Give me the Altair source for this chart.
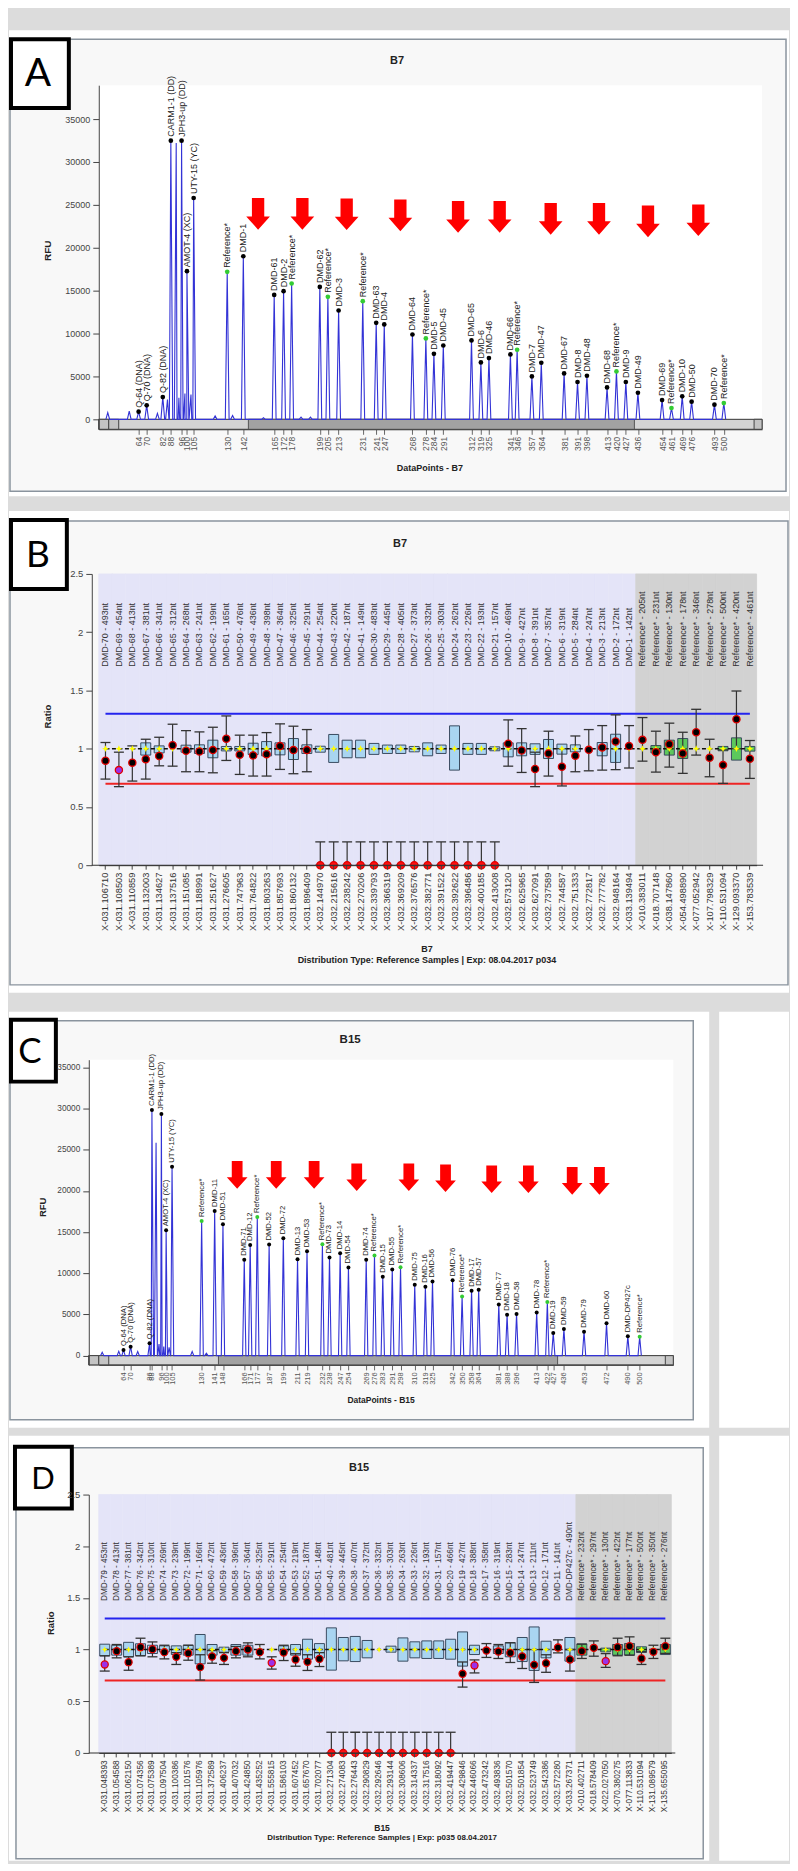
import altair as alt
import pandas as pd

FONT = "Liberation Sans"
LETTER_FONT = "Lato"
PAGE_BG = "#dcdcdc"
ONE = alt.Data(values=[{"k": 1}])
ARROW = "M-0.39,-1L0.39,-1L0.39,0.16L0.75,0.16L0,1L-0.75,0.16L-0.39,0.16Z"
STAR = "M0,-1L0.3,-0.3L1,0L0.3,0.3L0,1L-0.3,0.3L-1,0L-0.3,-0.3Z"

# ---------------- Panel A : B7 electropherogram ----------------
a_size = [41, 57, 64, 70, 78, 82, 85.5, 88, 92, 94, 96, 98.5, 100, 103, 105,
          121, 130, 134, 142, 157, 165, 172, 178, 185, 192, 199, 205, 213, 231, 241,
          247, 268, 278, 284, 291, 312, 319, 325, 341, 346, 357, 364, 381, 391, 398,
          413, 420, 427, 436, 454, 461, 469, 476, 493, 500]
a_rfu = [780, 970, 890, 1630, 700, 2600, 2300, 32480, 32200, 2500, 32480, 3000, 17270, 2900, 25800,
         400, 17190, 450, 19010, 200, 14500, 14940, 15830, 250, 250, 15440, 14280, 12690, 13770, 11250,
         11060, 9890, 9430, 7640, 8610, 9200, 6630, 7140, 7570, 8110, 5000, 6600, 5350, 4350, 5080,
         3720, 5590, 4350, 3100, 2250, 1320, 2680, 2060, 1710, 1900]
a_label = ["", "", "Q-64 (DNA)", "Q-70 (DNA)", "", "Q-82 (DNA)", "", "CARM1-1 (DD)", "", "",
           "JPH3-up (DD)", "", "AMOT-4 (XC)", "", "UTY-15 (YC)",
           "", "Reference*", "", "DMD-1", "", "DMD-61", "DMD-2", "Reference*", "", "",
           "DMD-62", "Reference*", "DMD-3", "Reference*", "DMD-63",
           "DMD-4", "DMD-64", "Reference*", "DMD-5", "DMD-45", "DMD-65", "DMD-6", "DMD-46", "DMD-66",
           "Reference*", "DMD-7", "DMD-47", "DMD-67", "DMD-8", "DMD-48",
           "DMD-68", "Reference*", "DMD-9", "DMD-49", "DMD-69", "Reference*", "DMD-10", "DMD-50",
           "DMD-70", "Reference*"]
a_ticks = [64, 70, 82, 88, 96, 100, 105, 130, 142, 165, 172, 178, 199, 205, 213, 231, 241, 247,
           268, 278, 284, 291, 312, 319, 325, 341, 346, 357, 364, 381, 391, 398, 413, 420, 427,
           436, 454, 461, 469, 476, 493, 500]
a_arrow_x = [153, 186, 219, 259, 302, 333, 371, 407, 443.5, 481]
a_arrow_y = [23950, 23950, 23900, 23780, 23600, 23600, 23370, 23370, 23080, 23200]

# ---------------- Panel C : B15 electropherogram ----------------
c_size = [46, 60, 64, 70, 76, 86, 88, 91.5, 94, 96, 98, 100, 102.5, 105, 122,
          130, 134, 141, 148, 166, 171, 177, 187, 199, 211, 219, 232, 238, 247, 254,
          269, 276, 283, 291, 298, 310, 319, 325, 342, 350, 358, 364, 381, 388, 396,
          413, 422, 427, 436, 453, 472, 490, 500]
c_rfu = [400, 520, 690, 1090, 500, 1490, 29830, 25840, 1400, 29350, 1100, 15220, 1000, 22930, 500,
         16350, 300, 17560, 15950, 11630, 13440, 16830, 13480, 14250, 11710, 12680, 13520, 11910, 12430, 10700,
         11630, 12150, 9570, 10460, 10740, 8600, 8360, 9000, 9160, 7190, 7870, 7990, 6220, 4970, 5050,
         5250, 6500, 2750, 3230, 2910, 3920, 2340, 2300]
c_label = ["", "", "Q-64 (DNA)", "Q-70 (DNA)", "", "Q-82 (DNA)", "CARM1-1 (DD)", "", "", "JPH3-up (DD)",
           "", "AMOT-4 (XC)", "", "UTY-15 (YC)", "",
           "Reference*", "", "DMD-11", "DMD-51", "DMD-71", "DMD-12", "Reference*", "DMD-52", "DMD-72",
           "DMD-13", "DMD-53", "Reference*", "DMD-73", "DMD-14", "DMD-54",
           "DMD-74", "Reference*", "DMD-15", "DMD-55", "Reference*", "DMD-75", "DMD-16", "DMD-56",
           "DMD-76", "Reference*", "DMD-17", "DMD-57", "DMD-77", "DMD-18", "DMD-58",
           "DMD-78", "Reference*", "DMD-19", "DMD-59", "DMD-79", "DMD-60", "DMD-DP427c", "Reference*"]
c_ticks = [64, 70, 86, 88, 96, 100, 105, 130, 141, 148, 166, 171, 177, 187, 199, 211, 219, 232,
           238, 247, 254, 269, 276, 283, 291, 298, 310, 319, 325, 342, 350, 358, 364, 381, 388,
           396, 413, 422, 427, 436, 453, 472, 490, 500]
c_arrow_x = [160, 193, 225, 261, 305, 336, 375, 406, 443, 466]
c_arrow_y = [21940, 21940, 21940, 21650, 21650, 21530, 21410, 21410, 21220, 21220]

rfu_ticks = [0, 5000, 10000, 15000, 20000, 25000, 30000, 35000]

# ---------------- Panel B : B7 ratio plot ----------------
b_xlab = ["X-031.106710", "X-031.108503", "X-031.110859", "X-031.132003", "X-031.134627",
          "X-031.137516", "X-031.151085", "X-031.188991", "X-031.251627", "X-031.276605",
          "X-031.747963", "X-031.764822", "X-031.803263", "X-031.857693", "X-031.860132",
          "X-031.896409", "X-032.144970", "X-032.215616", "X-032.238242", "X-032.270206",
          "X-032.339793", "X-032.366319", "X-032.369209", "X-032.376576", "X-032.382771",
          "X-032.391522", "X-032.392622", "X-032.396486", "X-032.400185", "X-032.413008",
          "X-032.573120", "X-032.625965", "X-032.627091", "X-032.737589", "X-032.744587",
          "X-032.751333", "X-032.772817", "X-032.777782", "X-032.948164", "X-033.139494",
          "X-010.383011", "X-018.707148", "X-038.147860", "X-054.498890", "X-077.052942",
          "X-107.798329", "X-110.531094", "X-129.093370", "X-153.783539"]
b_probe = ["DMD-70 - 493nt", "DMD-69 - 454nt", "DMD-68 - 413nt", "DMD-67 - 381nt", "DMD-66 - 341nt",
           "DMD-65 - 312nt", "DMD-64 - 268nt", "DMD-63 - 241nt", "DMD-62 - 199nt", "DMD-61 - 165nt",
           "DMD-50 - 476nt", "DMD-49 - 436nt", "DMD-48 - 398nt", "DMD-47 - 364nt", "DMD-46 - 325nt",
           "DMD-45 - 291nt", "DMD-44 - 254nt", "DMD-43 - 220nt", "DMD-42 - 187nt", "DMD-41 - 149nt",
           "DMD-30 - 483nt", "DMD-29 - 445nt", "DMD-28 - 405nt", "DMD-27 - 373nt", "DMD-26 - 332nt",
           "DMD-25 - 303nt", "DMD-24 - 262nt", "DMD-23 - 226nt", "DMD-22 - 193nt", "DMD-21 - 157nt",
           "DMD-10 - 469nt", "DMD-9 - 427nt", "DMD-8 - 391nt", "DMD-7 - 357nt", "DMD-6 - 319nt",
           "DMD-5 - 284nt", "DMD-4 - 247nt", "DMD-3 - 213nt", "DMD-2 - 172nt", "DMD-1 - 142nt",
           "Reference* - 205nt", "Reference* - 231nt", "Reference* - 130nt", "Reference* - 178nt",
           "Reference* - 346nt", "Reference* - 278nt", "Reference* - 500nt", "Reference* - 420nt",
           "Reference* - 461nt"]
b_box_lo = [None, None, None, 0.945, 0.964, None, 0.97, 0.959, 0.922, 0.981,
            0.981, 0.95, 0.938, 0.947, 0.907, 0.959, 0.970, 0.882, 0.922, 0.922,
            0.951, 0.959, 0.959, 0.973, 0.939, 0.959, 0.816, 0.951, 0.951, 0.982,
            0.93, 0.939, 0.951, 0.916, 0.953, 0.973, None, 0.939, 0.882, None,
            None, 0.964, 0.945, 0.916, None, None, 0.982, 0.902, 0.979]
b_box_hi = [None, None, None, 1.050, 1.024, None, 1.03, 1.033, 1.073, 1.019,
            1.019, 1.047, 1.061, 1.050, 1.087, 1.033, 1.021, 1.122, 1.073, 1.073,
            1.045, 1.031, 1.031, 1.019, 1.050, 1.031, 1.196, 1.045, 1.045, 1.016,
            1.05, 1.050, 1.042, 1.079, 1.039, 1.033, None, 1.053, 1.124, None,
            None, 1.027, 1.073, 1.087, None, None, 1.019, 1.093, 1.019]
b_ratio = [0.896, 0.816, 0.88, 0.910, 0.938, 1.030, 0.982, 0.976, 0.988, 1.085,
           0.948, 0.942, 0.953, 1.022, 0.988, 0.988, 0.0, 0.0, 0.0, 0.0,
           0.0, 0.0, 0.0, 0.0, 0.0, 0.0, 0.0, 0.0, 0.0, 0.0,
           1.042, 0.985, 0.825, 0.959, 0.845, 0.939, 0.990, 1.010, 1.062, 1.022,
           1.076, 0.970, 1.039, 0.959, 1.141, 0.922, 0.859, 1.253, 0.913]
b_err_lo = [0.739, 0.674, 0.722, 0.739, 0.853, 0.85, 0.802, 0.802, 0.793, 0.899,
            0.779, 0.765, 0.765, 0.822, 0.785, 0.802, 0.0, 0.0, 0.0, 0.0,
            0.0, 0.0, 0.0, 0.0, 0.0, 0.0, 0.0, 0.0, 0.0, 0.0,
            0.850, 0.796, 0.674, 0.765, 0.68, 0.802, 0.810, 0.816, 0.82, 0.834,
            0.893, 0.799, 0.842, 0.788, 0.945, 0.759, 0.702, 1.0, 0.745]
b_err_hi = [1.053, 0.97, 1.024, 1.081, 1.098, 1.21, 1.155, 1.144, 1.184, 1.281,
            1.116, 1.116, 1.138, 1.213, 1.193, 1.164, 0.2, 0.2, 0.2, 0.2,
            0.2, 0.2, 0.2, 0.2, 0.2, 0.2, 0.2, 0.2, 0.2, 0.2,
            1.247, 1.172, 0.97, 1.150, 1.0, 1.109, 1.164, 1.198, 1.29, 1.198,
            1.267, 1.150, 1.219, 1.141, 1.338, 1.081, 0.99, 1.495, 1.070]
b_kind = list("kpkkkkkkkkkkkkkk" "zzzzzzzzzzzzzz" "kkkkkkkkkkkkkkkkkkk")

# ---------------- Panel D : B15 ratio plot ----------------
d_xlab = ["X-031.048393", "X-031.054588", "X-031.062150", "X-031.074356", "X-031.075389",
          "X-031.097504", "X-031.100386", "X-031.101576", "X-031.105976", "X-031.372589",
          "X-031.406237", "X-031.407032", "X-031.424850", "X-031.435252", "X-031.555815",
          "X-031.586103", "X-031.607452", "X-031.657670", "X-031.702077", "X-032.271304",
          "X-032.274083", "X-032.276443", "X-032.290829", "X-032.292646", "X-032.293144",
          "X-032.308606", "X-032.314337", "X-032.317516", "X-032.318092", "X-032.419447",
          "X-032.429846", "X-032.446066", "X-032.473242", "X-032.493836", "X-032.501570",
          "X-032.501854", "X-032.523749", "X-032.542386", "X-032.572280", "X-033.267371",
          "X-010.402711", "X-018.578409", "X-022.027050", "X-070.380275", "X-077.113833",
          "X-110.531094", "X-131.089579", "X-135.655095"]
d_probe = ["DMD-79 - 453nt", "DMD-78 - 413nt", "DMD-77 - 381nt", "DMD-76 - 342nt", "DMD-75 - 310nt",
           "DMD-74 - 269nt", "DMD-73 - 239nt", "DMD-72 - 199nt", "DMD-71 - 166nt", "DMD-60 - 472nt",
           "DMD-59 - 436nt", "DMD-58 - 396nt", "DMD-57 - 364nt", "DMD-56 - 325nt", "DMD-55 - 291nt",
           "DMD-54 - 254nt", "DMD-53 - 219nt", "DMD-52 - 187nt", "DMD-51 - 148nt", "DMD-40 - 481nt",
           "DMD-39 - 445nt", "DMD-38 - 407nt", "DMD-37 - 372nt", "DMD-36 - 332nt", "DMD-35 - 303nt",
           "DMD-34 - 263nt", "DMD-33 - 226nt", "DMD-32 - 193nt", "DMD-31 - 157nt", "DMD-20 - 466nt",
           "DMD-19 - 427nt", "DMD-18 - 388nt", "DMD-17 - 358nt", "DMD-16 - 319nt", "DMD-15 - 283nt",
           "DMD-14 - 247nt", "DMD-13 - 211nt", "DMD-12 - 171nt", "DMD-11 - 141nt", "DMD-DP427c - 490nt",
           "Reference* - 232nt", "Reference* - 297nt", "Reference* - 130nt", "Reference* - 422nt",
           "Reference* - 177nt", "Reference* - 500nt", "Reference* - 350nt", "Reference* - 276nt"]
d_box_lo = [0.939, 0.946, 0.93, 0.940, 0.962, 0.978, 0.952, 0.946, 0.862, 0.946,
            0.975, 0.946, 0.946, None, None, 0.985, 0.946, 0.907, 0.919, 0.801,
            0.891, 0.884, 0.92, None, 0.975, 0.888, 0.92, 0.914, 0.914, 0.907,
            0.840, 0.952, None, 0.962, 0.930, 0.884, 0.798, 0.920, None, 0.888,
            0.946, None, 0.978, 0.946, 0.946, 0.972, None, 0.952]
d_box_hi = [1.052, 1.042, 1.07, 1.056, 1.042, 1.036, 1.036, 1.042, 1.146, 1.049,
            1.023, 1.049, 1.042, None, None, 1.036, 1.049, 1.100, 1.058, 1.210,
            1.117, 1.127, 1.088, None, 1.033, 1.113, 1.075, 1.084, 1.084, 1.100,
            1.171, 1.042, None, 1.036, 1.068, 1.117, 1.219, 1.081, None, 1.117,
            1.055, None, 1.014, 1.049, 1.059, 1.027, None, 1.049]
d_ratio = [0.856, 0.985, 0.878, 1.023, 1.004, 0.975, 0.930, 0.965, 0.830, 0.933,
           0.920, 0.985, 1.001, 0.975, 0.872, 0.971, 0.904, 0.881, 0.910, 0.0,
           0.0, 0.0, 0.0, 0.0, 0.0, 0.0, 0.0, 0.0, 0.0, 0.0,
           0.766, 0.846, 0.991, 0.981, 0.968, 0.933, 0.852, 0.868, 1.020, 0.904,
           0.985, 1.017, 0.888, 1.023, 1.033, 0.914, 0.978, 1.033]
d_err_lo = [0.792, 0.920, 0.80, 0.94, 0.930, 0.91, 0.856, 0.897, 0.705, 0.868,
            0.856, 0.920, 0.930, 0.91, 0.811, 0.894, 0.839, 0.798, 0.836, 0.0,
            0.0, 0.0, 0.0, 0.0, 0.0, 0.0, 0.0, 0.0, 0.0, 0.0,
            0.637, 0.774, 0.924, 0.914, 0.875, 0.817, 0.682, 0.78, 0.968, 0.792,
            0.914, 0.936, 0.827, 0.94, 0.946, 0.856, 0.914, 0.963]
d_err_hi = [0.94, 1.049, 0.93, 1.110, 1.074, 1.042, 0.97, 1.042, 0.95, 0.99,
            0.97, 1.03, 1.065, 1.049, 0.93, 1.042, 0.96, 0.95, 0.97, 0.2,
            0.2, 0.2, 0.2, 0.2, 0.2, 0.2, 0.2, 0.2, 0.2, 0.2,
            0.88, 0.90, 1.058, 1.049, 1.065, 1.0, 1.0, 0.95, 1.094, 1.0,
            1.052, 1.084, 0.96, 1.11, 1.123, 0.98, 1.042, 1.11]
d_kind = list("pkkkkkkkkkkkkkpkkkk" "zzzzzzzzzzz" "kpkkkkkkkk" "kkpkkkkk")

thresholds = [1.3, 0.7]
median_ratio = 1.0
ratio_ticks = [0, 0.5, 1, 1.5, 2, 2.5]


# ---------------- helpers ----------------
def deco_rect(g, x1, y1, x2, y2, fill, stroke=None, sw=0):
    props = {"fill": fill, "strokeWidth": sw}
    if stroke:
        props["stroke"] = stroke
    return alt.Chart(ONE).mark_rect(**props).encode(
        x=alt.value(x1 - g["PL"]), x2=alt.value(x2 - g["PL"]),
        y=alt.value(y1 - g["PT"]), y2=alt.value(y2 - g["PT"]))


def deco_text(g, x, y, txt, size, bold=False, angle=0, font=FONT, color="#222222"):
    props = {"text": txt, "fontSize": size, "font": font, "color": color,
             "align": "center", "baseline": "middle"}
    if bold:
        props["fontWeight"] = "bold"
    if angle:
        props["angle"] = angle
    return alt.Chart(ONE).mark_text(**props).encode(
        x=alt.value(x - g["PL"]), y=alt.value(y - g["PT"]))


def electro_panel(g, sizes, rfu, labels, ticks, arr_x, arr_y):
    W, H = g["W"], g["H"]
    xs = alt.Scale(domain=g["xdom"], nice=False, zero=False)
    ys = alt.Scale(domain=g["ydom"], nice=False, zero=False)
    pk = pd.DataFrame({"v": sizes, "h": rfu, "lab": labels})
    ar = pd.DataFrame({"ax": arr_x, "ay": arr_y})
    xaxis = alt.Axis(values=ticks, format="d", labelAngle=-90, labelFontSize=g["tfs"],
                     labelColor="#555555", tickSize=5, tickColor="#666666",
                     domainColor="#444444", labelOverlap=False, labelPadding=2,
                     labelFlush=False, title=None, grid=False, zindex=2)
    yaxis = alt.Axis(values=rfu_ticks, format="d", labelFontSize=g["yfs"], labelColor="#444444",
                     tickSize=6, tickColor="#444444", domainColor="#444444", labelPadding=3,
                     offset=g["yoff"], labelFlush=False, labelOverlap=False, title=None,
                     grid=False, zindex=2)
    trace = (alt.Chart(pk)
             .transform_calculate(a="datum.v - 1.4", c="datum.v", b="datum.v + 1.4")
             .transform_fold(["a", "c", "b"], as_=["k", "px"])
             .transform_calculate(py="datum.k == 'c' ? datum.h : 0")
             .mark_line(color="#3333d6", strokeWidth=1.1)
             .encode(x=alt.X("px:Q", scale=xs, axis=xaxis),
                     y=alt.Y("py:Q", scale=ys, axis=yaxis),
                     order="px:Q"))
    named = alt.Chart(pk).transform_filter("datum.lab != ''")
    dots = named.mark_circle(size=g["dot"], opacity=1).encode(
        x=alt.X("v:Q", scale=xs, axis=xaxis), y=alt.Y("h:Q", scale=ys, axis=yaxis),
        color=alt.condition("datum.lab == 'Reference*'", alt.value("#33cc33"), alt.value("#000000")))
    labs = named.mark_text(angle=270, align="left", baseline="middle", dx=4,
                           fontSize=g["lfs"], font=FONT, color="#222222").encode(
        x=alt.X("v:Q", scale=xs, axis=xaxis), y=alt.Y("h:Q", scale=ys, axis=yaxis), text="lab:N")
    arrows = alt.Chart(ar).mark_point(shape=ARROW, filled=True, size=g["asz"], color="#ff0000",
                                      opacity=1, strokeWidth=0).encode(
        x=alt.X("ax:Q", scale=xs, axis=xaxis), y=alt.Y("ay:Q", scale=ys, axis=yaxis))

    d = g["deco"]
    PL, PT = g["PL"], g["PT"]
    px0 = d["plotx"]
    sb_top = d["sb"][0]
    sb_bot = PT + H
    layers = [deco_rect(g, *d["slot"], PAGE_BG), deco_rect(g, *d["card"], "#ffffff")]
    if "white" in d:
        layers.append(deco_rect(g, *d["white"], "#ffffff"))
    layers += [
        deco_rect(g, *d["frame"], "#f8f8f8", "#8a949e", 1.5),
        deco_rect(g, px0, PT, PL + W, PT + H, "#ffffff"),
        deco_rect(g, px0, sb_top, PL + W, sb_bot, "#d4d4d4", "#333333", 1),
        deco_rect(g, d["sb"][1], sb_top, d["sb"][2], sb_bot, "#a2a2a2", "#555555", 1),
        deco_rect(g, px0, sb_top, px0 + 10, sb_bot, "#c4c4c4", "#444444", 1),
        deco_rect(g, px0 + 10, sb_top, px0 + 20, sb_bot, "#c4c4c4", "#444444", 1),
        deco_rect(g, PL + W - 8, sb_top, PL + W, sb_bot, "#c4c4c4", "#444444", 1),
        trace, dots, labs, arrows,
        deco_text(g, *d["title"], bold=True),
        deco_text(g, *d["ytitle"], bold=True, angle=270),
        deco_text(g, *d["xtitle"], bold=True),
        deco_rect(g, *d["lbox"], "#ffffff", "#000000", 4),
        deco_text(g, *d["letter"], font=LETTER_FONT, color="#000000"),
    ]
    return alt.layer(*layers).properties(width=W, height=H)


def ratio_panel(g, xlab, probe, blo, bhi, ratio, elo, ehi, kind):
    W, H = g["W"], g["H"]
    n = len(xlab)
    xs = alt.Scale(domain=xlab, paddingInner=0, paddingOuter=0)
    ys = alt.Scale(domain=[0, 2.5], nice=False, zero=False)
    grp = ["Ref" if p.startswith("Reference") else "DMD" for p in probe]
    df = pd.DataFrame({"xl": xlab, "probe": probe, "blo": blo, "bhi": bhi, "r": ratio,
                       "elo": elo, "ehi": ehi, "kind": kind, "grp": grp,
                       "idx": list(range(n)), "med": [median_ratio] * n})
    lines = pd.DataFrame({"xl": xlab * 2, "idx": list(range(n)) * 2,
                          "y": [thresholds[0]] * n + [thresholds[1]] * n,
                          "g": ["hi"] * n + ["lo"] * n})
    xaxis = alt.Axis(labelAngle=-90, labelFontSize=g["xfs"], labelColor="#333333", labelPadding=3,
                     tickSize=4, tickColor="#444444", domainColor="#333333", title=None,
                     grid=False, zindex=2, labelOverlap=False)
    yaxis = alt.Axis(values=ratio_ticks, format="~g", labelFontSize=9.5, labelColor="#444444",
                     tickSize=6, tickColor="#444444", domainColor="#444444", labelPadding=3,
                     offset=g["yoff"], title=None, grid=False, zindex=2, labelFlush=False)
    X = alt.X("xl:N", scale=xs, axis=xaxis)

    def Y(f):
        return alt.Y(f, scale=ys, axis=yaxis)

    bg = alt.Chart(df).mark_rect(strokeWidth=0.8).encode(
        x=X, y=alt.value(0), y2=alt.value(H),
        fill=alt.condition("datum.grp == 'Ref'", alt.value("#d2d2d2"), alt.value("#e4e4f8")),
        stroke=alt.condition("datum.grp == 'Ref'", alt.value("#d2d2d2"), alt.value("#e4e4f8")))
    thr = alt.Chart(lines).mark_line(strokeWidth=2).encode(
        x=X, y=Y("y:Q"),
        color=alt.Color("g:N", scale=alt.Scale(domain=["hi", "lo"], range=["#2424ee", "#ee2424"]),
                        legend=None),
        order="idx:Q")
    boxes = alt.Chart(df.dropna(subset=["blo"])).mark_bar(
        width=g["bw"], stroke="#3a4b60", strokeWidth=1).encode(
        x=X, y=Y("blo:Q"), y2="bhi:Q",
        fill=alt.condition("datum.grp == 'Ref'", alt.value("#5cc85c"), alt.value("#a9d5f1")))
    med = alt.Chart(df).mark_line(strokeDash=[4, 2.5], color="#111111", strokeWidth=1.6).encode(
        x=X, y=Y("med:Q"), order="idx:Q")
    err = alt.Chart(df).mark_rule(color="#333333", strokeWidth=1.2).encode(
        x=X, y=Y("elo:Q"), y2="ehi:Q")
    cap_lo = alt.Chart(df).mark_tick(size=g["cap"], thickness=1.3, color="#333333", opacity=1).encode(
        x=X, y=Y("elo:Q"))
    cap_hi = alt.Chart(df).mark_tick(size=g["cap"], thickness=1.3, color="#333333", opacity=1).encode(
        x=X, y=Y("ehi:Q"))
    stars = alt.Chart(df).mark_point(shape=STAR, filled=True, color="#ffff00", size=g["star"],
                                     opacity=1, strokeWidth=0).encode(
        x=X, y=Y("med:Q"))
    dots = alt.Chart(df).mark_point(shape="circle", filled=True, size=g["dot"], stroke="#e00000",
                                    strokeWidth=1.3, opacity=1).encode(
        x=X, y=Y("r:Q"),
        fill=alt.Fill("kind:N", scale=alt.Scale(domain=["k", "p", "z"],
                                                range=["#000000", "#9b30e8", "#ff1010"]), legend=None))
    tops = alt.Chart(df).mark_text(angle=270, align="left", baseline="middle", fontSize=g["pfs"],
                                   font=FONT, color="#333333").encode(
        x=X, y=alt.value(g["ly"]), text="probe:N")

    d = g["deco"]
    ax0, ax1, ay = d["xline"]
    layers = [deco_rect(g, *d["slot"], PAGE_BG), deco_rect(g, *d["card"], "#ffffff")]
    if "white" in d:
        layers.append(deco_rect(g, *d["white"], "#ffffff"))
    layers += [
        deco_rect(g, *d["frame"], "#f8f8f8", "#8a949e", 1.5),
        bg, thr, boxes, med, err, cap_lo, cap_hi, stars, dots, tops,
        deco_rect(g, ax0, ay - 0.5, ax1, ay + 0.5, "#333333"),
        deco_text(g, *d["title"], bold=True),
        deco_text(g, *d["ytitle"], bold=True, angle=270),
        deco_text(g, *d["xtitle"], bold=True),
        deco_text(g, *d["sub"], bold=True),
        deco_rect(g, *d["lbox"], "#ffffff", "#000000", 4),
        deco_text(g, *d["letter"], font=LETTER_FONT, color="#000000"),
    ]
    return alt.layer(*layers).properties(width=W, height=H)


# ---------------- geometry (page pixels); every panel's plot origin sits at x=98 ----------------
GA = {"PL": 98, "PT": 82, "W": 665, "H": 345, "xdom": [34.3, 528.5], "ydom": [-1160, 38950],
      "tfs": 8.5, "yfs": 9, "lfs": 9, "dot": 22, "asz": 1005, "yoff": 0,
      "deco": {"slot": (8, 8, 790, 498), "card": (8, 27, 790, 494), "frame": (9, 36, 787, 489),
               "plotx": 98, "sb": (417, 248, 635),
               "title": (397, 58, "B7", 11), "ytitle": (47, 248, "RFU", 10),
               "xtitle": (430, 466, "DataPoints - B7", 9),
               "lbox": (10, 36, 68, 105), "letter": (37, 71, "A", 39)}}
GB = {"PL": 98, "PT": 570, "W": 659.5, "H": 292, "yoff": 7, "xfs": 9.3, "pfs": 9, "ly": 93,
      "bw": 10, "cap": 10, "dot": 52, "star": 45,
      "deco": {"slot": (8, 498, 790, 998), "card": (8, 507, 790, 990), "frame": (9, 517, 789, 982),
               "xline": (91, 764, 862),
               "title": (400, 540, "B7", 11), "ytitle": (47, 713, "Ratio", 9.5),
               "xtitle": (427, 946, "B7", 9),
               "sub": (427, 957, "Distribution Type: Reference Samples | Exp: 08.04.2017 p034", 9),
               "lbox": (10, 516, 66, 585), "letter": (37, 552, "B", 37)}}
GC = {"PL": 98, "PT": 1055, "W": 576, "H": 306, "xdom": [43.1, 528.4], "ydom": [-1126, 35930],
      "tfs": 7.5, "yfs": 8.3, "lfs": 7.7, "dot": 16, "asz": 767, "yoff": 10,
      "deco": {"slot": (8, 998, 790, 1428), "card": (8, 1007, 710, 1424),
               "white": (720, 1007, 790, 1424), "frame": (9, 1016, 694, 1416),
               "plotx": 88, "sb": (1351.7, 218, 558),
               "title": (350, 1035, "B15", 11.5), "ytitle": (42, 1203, "RFU", 9.5),
               "xtitle": (381, 1396, "DataPoints - B15", 8.5),
               "lbox": (10, 1015, 55, 1077), "letter": (29, 1047, "C", 35)}}
GD = {"PL": 98, "PT": 1489, "W": 574, "H": 259, "yoff": 10, "xfs": 8.3, "pfs": 8.3, "ly": 106.7,
      "bw": 10, "cap": 10, "dot": 50, "star": 40,
      "deco": {"slot": (8, 1428, 790, 1856), "card": (8, 1430, 710, 1856),
               "white": (720, 1430, 790, 1856), "frame": (15, 1442, 704, 1854),
               "xline": (88, 676, 1748),
               "title": (359, 1462, "B15", 11), "ytitle": (50, 1618, "Ratio", 9.5),
               "xtitle": (382, 1823, "B15", 8.5),
               "sub": (382, 1833, "Distribution Type: Reference Samples | Exp: p035 08.04.2017", 8),
               "lbox": (14, 1441, 71, 1503), "letter": (42, 1474, "D", 31)}}

pA = electro_panel(GA, a_size, a_rfu, a_label, a_ticks, a_arrow_x, a_arrow_y)
pB = ratio_panel(GB, b_xlab, b_probe, b_box_lo, b_box_hi, b_ratio, b_err_lo, b_err_hi, b_kind)
pC = electro_panel(GC, c_size, c_rfu, c_label, c_ticks, c_arrow_x, c_arrow_y)
pD = ratio_panel(GD, d_xlab, d_probe, d_box_lo, d_box_hi, d_ratio, d_err_lo, d_err_hi, d_kind)

chart = (alt.concat(pA, pB, pC, pD, columns=1, spacing=0)
         .properties(padding=0, background=PAGE_BG)
         .configure(font=FONT)
         .configure_view(stroke="transparent"))

chart.save("out.html", embed_options={"renderer": "svg", "actions": False})
